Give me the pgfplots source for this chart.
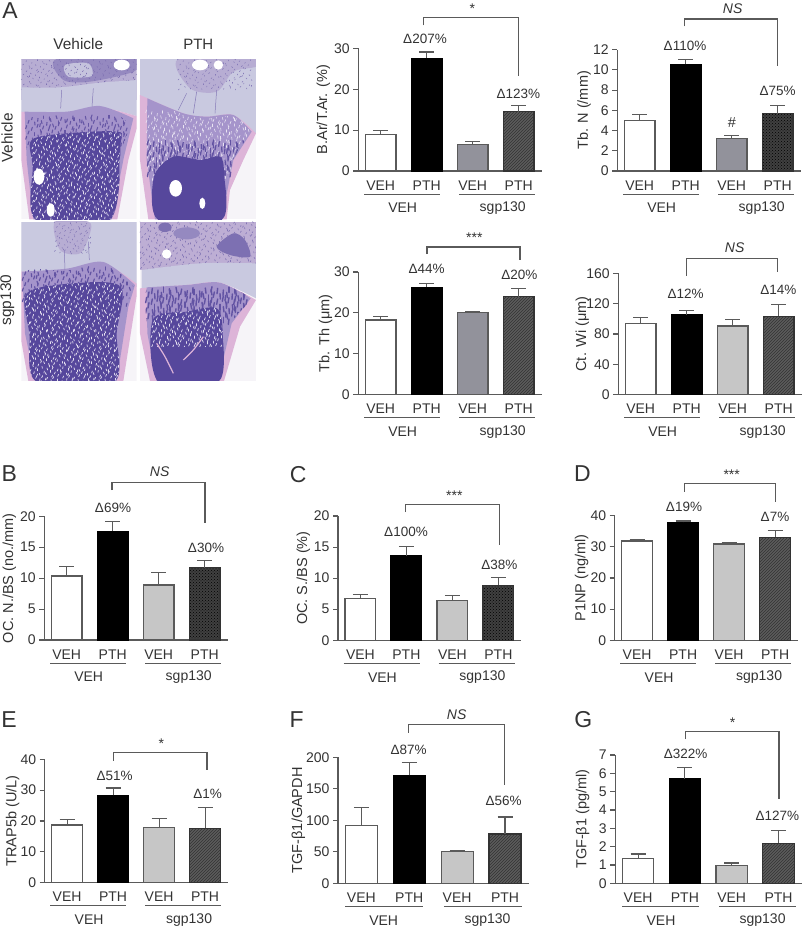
\documentclass[border=0pt]{standalone}
\usepackage{fontspec}
\setmainfont{Liberation Sans}
\usepackage{pgfplots}
\pgfplotsset{compat=1.18}
\usetikzlibrary{patterns}
\definecolor{ink}{HTML}{333333}
\definecolor{axisgrey}{HTML}{5A5A5A}
\definecolor{bluegrey}{HTML}{92929B}
\definecolor{lightgrey}{HTML}{C6C6C6}
\definecolor{hatchbg}{HTML}{5C5C5C}
\definecolor{cart}{HTML}{C9C9E0}
\definecolor{epi}{HTML}{B7ADD3}
\definecolor{meta}{HTML}{A594CB}
\definecolor{cort}{HTML}{DDB4D8}
\definecolor{trab}{HTML}{56479C}
\definecolor{paper}{HTML}{F6F4F8}
\newcommand{\tickf}{\fontsize{14}{15}\selectfont}
\newcommand{\labf}{\fontsize{14.5}{15}\selectfont}
\newcommand{\pctf}{\fontsize{13.5}{14}\selectfont}
\newcommand{\letf}{\fontsize{23}{24}\selectfont}
% px coordinates of the reference: x0, baseline, top tick, bar pitch
\pgfplotsset{
  panel/.style n args={4}{
    scale only axis, at={(#1pt,-#2pt)}, anchor=south west,
    width=\fpeval{3.987*#4}pt, height=\fpeval{#2-#3}pt,
    xmin=-0.487, xmax=3.5, ymin=0, clip=false,
    axis x line*=bottom, axis y line*=left,
    axis line style={axisgrey, line width=1.1pt, -},
    xtick={0,1,2,3}, xticklabels={VEH,PTH,VEH,PTH},
    x tick style={draw=none}, y tick style={axisgrey, line width=1.1pt},
    tick align=outside, major tick length=5pt,
    tick label style={font=\tickf, text=ink, /pgf/number format/assume math mode=true},
    xticklabel style={yshift=-1pt},
    every axis y label/.style={at={(axis description cs:0,0.5)}, rotate=90, anchor=center, font=\labf, text=ink},
  },
  onebar/.style={ybar, bar shift=0pt, bar width=0.667, draw=axisgrey, line width=1.2pt,
    error bars/y dir=plus, error bars/y explicit,
    error bars/error bar style={axisgrey, line width=1.1pt},
    error bars/error mark options={axisgrey, line width=1.1pt, mark size=7.5pt, rotate=90}},
}
\tikzset{
  wh/.style={fill=white},
  bk/.style={fill=black, draw=black},
  gb/.style={fill=bluegrey},
  lg/.style={fill=lightgrey},
  hl/.style={fill=hatchbg, draw=ink, postaction={pattern=north east lines, pattern color=ink}},
  dt/.style={fill=hatchbg!70!black, draw=ink, postaction={pattern=crosshatch dots, pattern color=black}},
}
\newcommand{\onebar}[4]{\addplot[onebar,/tikz/#1] coordinates {(#2,#3) +- (0,#4)};}
% lx rx top leftbottom rightbottom text tx ty
\newcommand{\bracket}[8]{%
  \draw[axisgrey, line width=1.1pt] (#1,#4) -- (#1,#3) -- (#2,#3) -- (#2,#5);
  \node[text=ink, font=\tickf] at (#7,#8) {#6};}
\newcommand{\pct}[3]{\node[text=ink, font=\pctf] at (#1,#2) {Δ#3\%};}
% x of first bar centre, pitch, baseline
\newcommand{\groups}[3]{%
  \pgfmathsetmacro{\ca}{#1}\pgfmathsetmacro{\cb}{#1+#2}\pgfmathsetmacro{\cc}{#1+2*#2}\pgfmathsetmacro{\cd}{#1+3*#2}%
  \draw[axisgrey, line width=1pt] (\ca-16.7,#3+23) -- (\cb+13.3,#3+23);
  \draw[axisgrey, line width=1pt] (\cc-13.7,#3+23) -- (\cd+16.3,#3+23);
  \node[text=ink, font=\tickf] at (\ca+22,#3+37) {VEH};
  \node[text=ink, font=\tickf] at (\cc+30,#3+37) {sgp130};}
% tissue texture in zoom coordinates: x y nx ny step colour width length
\newcommand{\stip}[8]{%
  \foreach \i in {0,...,#3}{\foreach \j in {0,...,#4}{%
    \pgfmathsetmacro{\fx}{#1+\i*#5+mod(\j*7+\i*3,#5)}%
    \pgfmathsetmacro{\fy}{#2+\j*#5+mod(\i*5+\j*2,#5)}%
    \pgfmathsetmacro{\fa}{mod(\i*\j*3+\i,7)-3}%
    \draw[#6, line width=#7, line cap=round] (\fx,\fy) -- ++(\fa,#8);}}}
\begin{document}
\begin{tikzpicture}
\useasboundingbox (0pt,0pt) rectangle (805pt,-929pt);

% ---- A: the four sections, sketched
\begin{scope}[x=0.33333pt,y=-0.33333pt]
  % top left
  \begin{scope}
    \clip (64,177) rectangle (410,658);
    \fill[paper] (64,177) rectangle (410,658);
    \fill[epi] (64,177) rectangle (410,300);
    \fill[trab!35!epi] plot[smooth cycle] coordinates {(170,177)(190,240)(270,245)(400,215)(410,177)};
    \fill[cart!80!epi] plot[smooth cycle] coordinates {(195,195)(265,190)(275,228)(205,230)};
    \stip{64}{177}{26}{6}{13}{trab!60!epi}{0.5pt}{3}
    \fill[cart] plot[smooth] coordinates {(60,262)(180,262)(300,248)(415,240)} -- plot[smooth] coordinates {(415,350)(300,322)(200,340)(60,335)} -- cycle;
    \fill[cort] plot[smooth] coordinates {(60,335)(200,340)(300,322)(415,350)} -- (410,385) -- (385,480) -- (352,658) -- (88,658) -- (64,480) -- cycle;
    \fill[meta] plot[smooth] coordinates {(74,335)(200,335)(300,318)(400,355)} -- (372,470) -- (335,658) -- (100,658) -- (80,480) -- cycle;
    \begin{scope}
      \clip plot[smooth cycle] coordinates {(80,360)(200,345)(300,330)(385,370)(360,470)(335,660)(100,660)(85,480)};
      \stip{80}{345}{22}{6}{14}{trab!80!meta}{1.1pt}{9}
      \clip plot[smooth cycle] coordinates {(95,420)(200,400)(350,395)(362,430)(330,660)(108,660)(98,500)};
      \fill[trab] (64,380) rectangle (410,660);
      \stip{95}{385}{23}{25}{12}{white!70!meta}{0.7pt}{6}
    \end{scope}
    \fill[white] (365,195) ellipse (24 and 16);
    \fill[white] (117,530) ellipse (16 and 24);
    \fill[white] (152,630) ellipse (12 and 20);
    \draw[trab!50!epi, line width=0.5pt] (185,270) -- (182,325) (280,265) -- (276,320);
  \end{scope}
  % top right
  \begin{scope}
    \clip (420,177) rectangle (768,658);
    \fill[paper] (420,177) rectangle (768,658);
    \fill[cart] (420,177) rectangle (768,400);
    \fill[epi] plot[smooth cycle] coordinates {(535,177)(570,265)(650,275)(700,215)(768,200)(768,177)};
    \stip{535}{177}{16}{6}{13}{trab!50!epi}{0.5pt}{3}
    \fill[cort] plot[smooth] coordinates {(420,285)(550,340)(620,350)(700,345)(768,400)} -- (730,480) -- (690,570) -- (680,658) -- (445,658) -- (420,480) -- cycle;
    \fill[meta] plot[smooth] coordinates {(442,295)(550,340)(620,350)(700,345)(755,395)} -- (700,480) -- (665,658) -- (465,658) -- (440,480) -- cycle;
    \begin{scope}
      \clip plot[smooth cycle] coordinates {(442,300)(550,345)(620,355)(700,350)(750,395)(700,480)(665,660)(465,660)(440,480)};
      \stip{440}{330}{24}{15}{13}{white!75!meta}{0.6pt}{8}
      \stip{445}{420}{22}{6}{14}{trab!85!meta}{1.3pt}{14}
    \end{scope}
    \fill[trab] plot[smooth cycle] coordinates {(462,530)(520,470)(600,480)(660,470)(672,520)(665,660)(475,660)};
    \fill[white] (527,565) ellipse (19 and 25);
    \fill[white] (607,610) ellipse (9 and 17);
    \fill[white] (600,195) ellipse (24 and 16);
    \fill[white] (655,195) ellipse (14 and 14);
    \draw[trab!50!epi, line width=0.5pt] (560,280) -- (535,330) (590,275) -- (580,340) (650,270) -- (645,340);
  \end{scope}
  % bottom left
  \begin{scope}
    \clip (64,665) rectangle (410,1143);
    \fill[paper] (64,665) rectangle (410,1143);
    \fill[cart] (64,665) rectangle (410,860);
    \fill[epi] plot[smooth cycle] coordinates {(165,665)(180,750)(240,760)(270,700)(265,665)};
    \stip{165}{665}{8}{7}{12}{trab!50!epi}{0.5pt}{3}
    \fill[cort] plot[smooth] coordinates {(60,815)(200,810)(310,790)(415,855)} -- (405,920) -- (370,1143) -- (85,1143) -- (60,1000) -- cycle;
    \fill[meta] plot[smooth] coordinates {(66,815)(200,806)(310,786)(405,855)} -- (385,920) -- (350,1143) -- (105,1143) -- (75,1000) -- cycle;
    \begin{scope}
      \clip plot[smooth cycle] coordinates {(70,820)(200,812)(310,792)(400,860)(380,920)(350,1146)(105,1146)(78,1000)};
      \stip{70}{800}{24}{7}{14}{trab!85!meta}{1.2pt}{9}
      \clip plot[smooth cycle] coordinates {(80,880)(220,850)(362,860)(350,1000)(342,1146)(110,1146)(88,1000)};
      \fill[trab] (64,840) rectangle (410,1146);
      \stip{75}{845}{24}{25}{12}{white!70!meta}{0.7pt}{6}
    \end{scope}
    \draw[trab!50!epi, line width=0.5pt] (193,750) -- (195,810) (265,725) -- (268,780);
  \end{scope}
  % bottom right
  \begin{scope}
    \clip (420,665) rectangle (768,1143);
    \fill[paper] (420,665) rectangle (768,1143);
    \fill[epi!85!cort] (420,665) rectangle (768,810);
    \stip{420}{665}{26}{10}{13}{trab!55!epi}{0.6pt}{4}
    \fill[trab!60!epi] plot[smooth cycle] coordinates {(650,740)(700,700)(735,720)(750,770)(690,765)};
    \fill[trab!60!epi] (495,682) ellipse (20 and 14);
    \fill[trab!35!epi] (560,700) ellipse (40 and 18);
    \fill[white] (500,762) ellipse (14 and 14);
    \fill[cart] plot[smooth] coordinates {(425,810)(600,790)(768,790)} -- plot[smooth] coordinates {(768,895)(660,848)(560,855)(425,865)} -- cycle;
    \fill[cort] plot[smooth] coordinates {(420,865)(560,855)(660,848)(768,900)} -- (720,980) -- (672,1143) -- (450,1143) -- (420,1000) -- cycle;
    \fill[meta] plot[smooth] coordinates {(440,862)(560,855)(660,848)(752,895)} -- (695,970) -- (655,1143) -- (470,1143) -- (442,1000) -- cycle;
    \begin{scope}
      \clip plot[smooth cycle] coordinates {(442,866)(560,860)(660,852)(748,897)(695,970)(655,1146)(470,1146)(445,1000)};
      \stip{440}{860}{22}{6}{14}{trab!85!meta}{1.4pt}{16}
      \clip plot[smooth cycle] coordinates {(458,960)(560,935)(650,925)(668,1000)(655,1146)(475,1146)};
      \fill[trab] (440,900) rectangle (700,1146);
      \clip (440,900) rectangle (700,1040);
      \stip{455}{920}{17}{9}{12}{white!70!meta}{0.7pt}{7}
    \end{scope}
    \draw[cort, line width=1.2pt] plot[smooth] coordinates {(470,1030)(495,1070)(520,1120)};
    \draw[cort, line width=1.2pt] plot[smooth] coordinates {(610,1010)(580,1050)(550,1080)};
  \end{scope}
\end{scope}

% ---- bar panels
\begin{axis}[panel={358.3}{171}{48.3}{46}, ymax=30, ytick={0,10,20,30},
  ylabel={B.Ar/T.Ar. (\%)}, ylabel style={yshift=35pt}]
  \onebar{wh}{0}{9.0}{0.9}
  \onebar{bk}{1}{27.6}{1.5}
  \onebar{gb}{2}{6.5}{0.7}
  \onebar{hl}{3}{14.5}{1.5}
\end{axis}
\begin{axis}[panel={617.3}{171}{49.7}{46}, ymax=12, ytick={0,2,4,6,8,10,12},
  ylabel={Tb. N (/mm)}, ylabel style={yshift=33.3pt}]
  \onebar{wh}{0}{5.0}{0.6}
  \onebar{bk}{1}{10.55}{0.5}
  \onebar{gb}{2}{3.2}{0.3}
  \onebar{dt}{3}{5.67}{0.8}
\end{axis}
\begin{axis}[panel={358.3}{394.7}{272}{46}, ymax=30, ytick={0,10,20,30},
  ylabel={Tb. Th (μm)}, ylabel style={yshift=32.7pt}]
  \onebar{wh}{0}{18.25}{0.8}
  \onebar{bk}{1}{26.3}{0.9}
  \onebar{gb}{2}{20.1}{0.15}
  \onebar{hl}{3}{24.0}{2.0}
\end{axis}
\begin{axis}[panel={618.3}{394.7}{273.3}{46}, ymax=160, ytick={0,40,80,120,160},
  ylabel={Ct. Wi (μm)}, ylabel style={yshift=36pt}]
  \onebar{wh}{0}{94}{7.5}
  \onebar{bk}{1}{105.5}{6}
  \onebar{lg}{2}{90.5}{9}
  \onebar{hl}{3}{103.3}{15.4}
\end{axis}
\begin{axis}[panel={44.3}{640}{516.3}{46}, ymax=20, ytick={0,5,10,15,20},
  ylabel={OC. N./BS (no./mm)}, ylabel style={yshift=35pt}]
  \onebar{wh}{0}{10.35}{1.5}
  \onebar{bk}{1}{17.6}{1.6}
  \onebar{lg}{2}{8.9}{2.0}
  \onebar{dt}{3}{11.7}{1.1}
\end{axis}
\begin{axis}[panel={338}{640.3}{516}{46}, ymax=20, ytick={0,5,10,15,20},
  ylabel={OC. S./BS (\%)}, ylabel style={yshift=34.7pt}]
  \onebar{wh}{0}{6.76}{0.65}
  \onebar{bk}{1}{13.6}{1.55}
  \onebar{lg}{2}{6.43}{0.75}
  \onebar{dt}{3}{8.85}{1.2}
\end{axis}
\begin{axis}[panel={614.7}{640.3}{515.7}{46}, ymax=40, ytick={0,10,20,30,40},
  ylabel={P1NP (ng/ml)}, ylabel style={yshift=33pt}]
  \onebar{wh}{0}{31.9}{0.5}
  \onebar{bk}{1}{37.9}{0.4}
  \onebar{lg}{2}{30.9}{0.4}
  \onebar{hl}{3}{33.05}{2.1}
\end{axis}
\begin{axis}[panel={44.7}{882.7}{759.3}{46}, ymax=40, ytick={0,10,20,30,40},
  ylabel={TRAP5b (U/L)}, ylabel style={yshift=32pt}]
  \onebar{wh}{0}{18.7}{1.7}
  \onebar{bk}{1}{28.3}{2.4}
  \onebar{lg}{2}{17.95}{2.8}
  \onebar{hl}{3}{17.7}{6.6}
\end{axis}
\begin{axis}[panel={338}{883.3}{757.3}{47.9}, ymax=200, ytick={0,50,100,150,200},
  ylabel={TGF-β1/GAPDH}, ylabel style={yshift=39.7pt}]
  \onebar{wh}{0}{92}{28}
  \onebar{bk}{1}{171.4}{20.6}
  \onebar{lg}{2}{50.3}{1.5}
  \onebar{hl}{3}{78.3}{27}
\end{axis}
\begin{axis}[panel={615.3}{883.3}{755}{46.8}, ymax=7, ytick={0,1,2,3,4,5,6,7},
  ylabel={TGF-β1 (pg/ml)}, ylabel style={yshift=32.6pt}]
  \onebar{wh}{0}{1.35}{0.25}
  \onebar{bk}{1}{5.7}{0.63}
  \onebar{lg}{2}{0.96}{0.15}
  \onebar{hl}{3}{2.18}{0.7}
\end{axis}

% ---- text and brackets, px coordinates of the reference
\begin{scope}[x=1pt,y=-1pt]
  \node[text=ink, font=\letf] at (10,11) {A};
  \node[text=ink, font=\letf] at (9.3,474) {B};
  \node[text=ink, font=\letf] at (298.3,475) {C};
  \node[text=ink, font=\letf] at (582.3,474) {D};
  \node[text=ink, font=\letf] at (9,719.3) {E};
  \node[text=ink, font=\letf] at (296.7,719.3) {F};
  \node[text=ink, font=\letf] at (583.3,720) {G};
  \node[text=ink, font=\fontsize{15.4}{16}\selectfont] at (78.3,44.3) {Vehicle};
  \node[text=ink, font=\fontsize{15}{16}\selectfont] at (198.3,44.3) {PTH};
  \node[text=ink, font=\fontsize{15.4}{16}\selectfont, rotate=90] at (7,138) {Vehicle};
  \node[text=ink, font=\fontsize{15.4}{16}\selectfont, rotate=90] at (7.3,300) {sgp130};

  \groups{380.7}{46}{171}
  \groups{639.7}{46}{171}
  \groups{380.7}{46}{394.7}
  \groups{640.7}{46}{394.7}
  \groups{66.7}{46}{640}
  \groups{360.4}{46}{640.3}
  \groups{637.1}{46}{640.3}
  \groups{67.1}{46}{882.7}
  \groups{361.7}{47.9}{883.3}
  \groups{639}{46.8}{883.3}

  \bracket{423.7}{518.3}{17.7}{25.3}{76.3}{*}{472.3}{9}
  \bracket{684.7}{777.7}{19}{26.3}{65.7}{\textit{NS}}{732.7}{9}
  \bracket{427}{520}{247}{254}{260.3}{***}{474.3}{238}
  \bracket{686.7}{777.7}{258.3}{275.7}{272.3}{\textit{NS}}{734.7}{247.7}
  \bracket{112}{205}{482.3}{490}{522.7}{\textit{NS}}{159.7}{472}
  \bracket{405.3}{499.7}{504.3}{512}{545.3}{***}{454.3}{496}
  \bracket{684.3}{775.7}{483.7}{491.7}{502}{***}{731.7}{475}
  \bracket{113.7}{207}{752.3}{760.7}{770.3}{*}{161.3}{743.5}
  \bracket{408.7}{504.7}{724.7}{732.7}{784.7}{\textit{NS}}{456.7}{715}
  \bracket{685.3}{779}{731.3}{739}{798.7}{*}{732.7}{722.5}

  \pct{425}{39.3}{207}\pct{518.3}{94}{123}
  \pct{685}{45.7}{110}\pct{777.7}{91}{75}
  \node[text=ink, font=\labf] at (732,122.3) {\#};
  \pct{426.7}{269.3}{44}\pct{519.3}{275.3}{20}
  \pct{685.7}{294.3}{12}\pct{778.3}{289.7}{14}
  \pct{113}{508.3}{69}\pct{206}{547.7}{30}
  \pct{406}{531.7}{100}\pct{499.3}{565}{38}
  \pct{684}{506.7}{19}\pct{775}{516.7}{7}
  \pct{114.7}{775.7}{51}\pct{207.7}{794.3}{1}
  \pct{408.7}{749.7}{87}\pct{503.7}{801.3}{56}
  \pct{685.7}{753.7}{322}\pct{777.3}{816}{127}
\end{scope}
\end{tikzpicture}
\end{document}
